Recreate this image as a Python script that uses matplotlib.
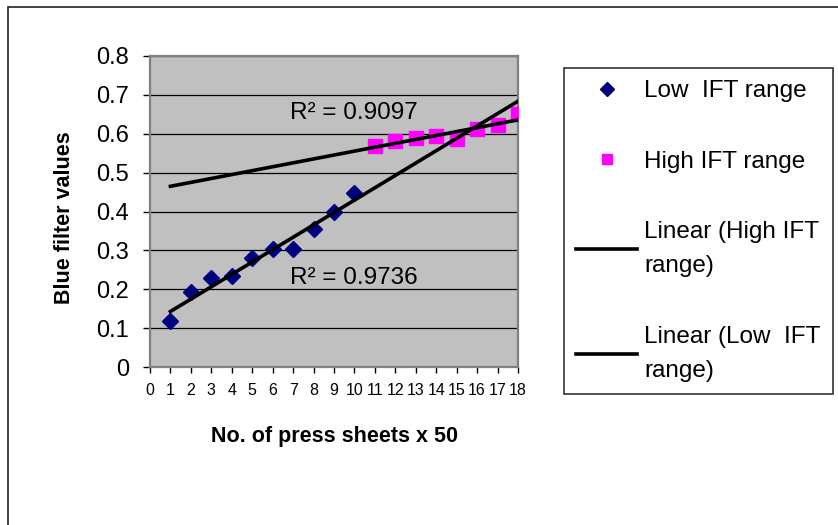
import numpy as np
import matplotlib.pyplot as plt
from matplotlib.patches import Rectangle
from matplotlib.lines import Line2D

plt.rcParams['font.family'] = ['Liberation Sans', 'DejaVu Sans']

# data
low_x = [1, 2, 3, 4, 5, 6, 7, 8, 9, 10]
low_y = [0.118, 0.193, 0.229, 0.234, 0.281, 0.303, 0.303, 0.354, 0.398, 0.447]
high_x = [11, 12, 13, 14, 15, 16, 17, 18]
high_y = [0.569, 0.582, 0.588, 0.593, 0.586, 0.612, 0.623, 0.651]
r2_high = "R\u00b2 = 0.9097"
r2_low = "R\u00b2 = 0.9736"
xticks = list(range(0, 19))
yticks = [0, 0.1, 0.2, 0.3, 0.4, 0.5, 0.6, 0.7, 0.8]
ytick_labels = ['0', '0.1', '0.2', '0.3', '0.4', '0.5', '0.6', '0.7', '0.8']

W, H = 838, 525
fig = plt.figure(figsize=(W / 100, H / 100), dpi=100)

# outer chart border (runs off the right and bottom edges)
border = Rectangle((8 / W, -0.1), 1.0, 1 - 7 / H + 0.1, transform=fig.transFigure,
                   facecolor='none', edgecolor='#222222', linewidth=1.2)
fig.patches.append(border)

ax = fig.add_axes([150 / W, 1 - 367 / H, 368 / W, 311 / H])
ax.set_facecolor('#C0C0C0')

ax.plot(low_x, low_y, linestyle='none', marker='D', markersize=8.5, color='#000080', zorder=4)
ax.plot(high_x, high_y, linestyle='none', marker='s', markersize=10, color='#FF00FF', zorder=4)

# linear trend lines, extended over the whole range
xfit = np.array([1, 18])
m_h, n_h = np.polyfit(high_x, high_y, 1)
m_l, n_l = np.polyfit(low_x, low_y, 1)
ax.plot(xfit, m_h * xfit + n_h, color='black', linewidth=2.6, zorder=5)
ax.plot(xfit, m_l * xfit + n_l, color='black', linewidth=2.6, zorder=5)

ax.text(6.85, 0.654, r2_high, fontsize=17.5, va='center', ha='left', zorder=6)
ax.text(6.85, 0.229, r2_low, fontsize=17.5, va='center', ha='left', zorder=6)

ax.set_xlim(0, 18)
ax.set_ylim(0, 0.8)
ax.set_xticks(xticks, labels=[str(t) for t in xticks])
ax.set_yticks(yticks, labels=ytick_labels)
ax.tick_params(axis='x', labelsize=11.5, length=4.5, width=1, pad=7, direction='out')
ax.tick_params(axis='y', labelsize=17, length=5, width=1, pad=10, direction='out')
ax.grid(axis='y', color='black', linewidth=0.9)
ax.set_axisbelow(True)
for s in ax.spines.values():
    s.set_color('#808080')
    s.set_linewidth(1.6)

ax.set_xlabel('No. of press sheets x 50', fontsize=15.5, fontweight='bold')
ax.xaxis.set_label_coords(0.5, -0.19)
ax.set_ylabel('Blue filter values', fontsize=15.5, fontweight='bold')
ax.yaxis.set_label_coords(-0.205, 0.48)

handles = [
    Line2D([0], [0], linestyle='none', marker='D', markersize=7, color='#000080'),
    Line2D([0], [0], linestyle='none', marker='s', markersize=7.5, color='#FF00FF'),
    Line2D([0], [0], color='black', linewidth=2.6),
    Line2D([0], [0], color='black', linewidth=2.6),
]
labels = ['Low  IFT range', 'High IFT range', 'Linear (High IFT\nrange)', 'Linear (Low  IFT\nrange)']
leg = fig.legend(handles, labels, loc='upper left', bbox_to_anchor=(564 / W, 1 - 68 / H),
                 fontsize=17.5, frameon=True, fancybox=False, borderaxespad=0,
                 borderpad=0.5, handlelength=2.5, handletextpad=0.3, labelspacing=2.0)
leg.get_frame().set_edgecolor('black')
leg.get_frame().set_linewidth(1.2)
for t in leg.get_texts():
    t.set_linespacing(1.7)

fig.savefig('out.png', dpi=100)
